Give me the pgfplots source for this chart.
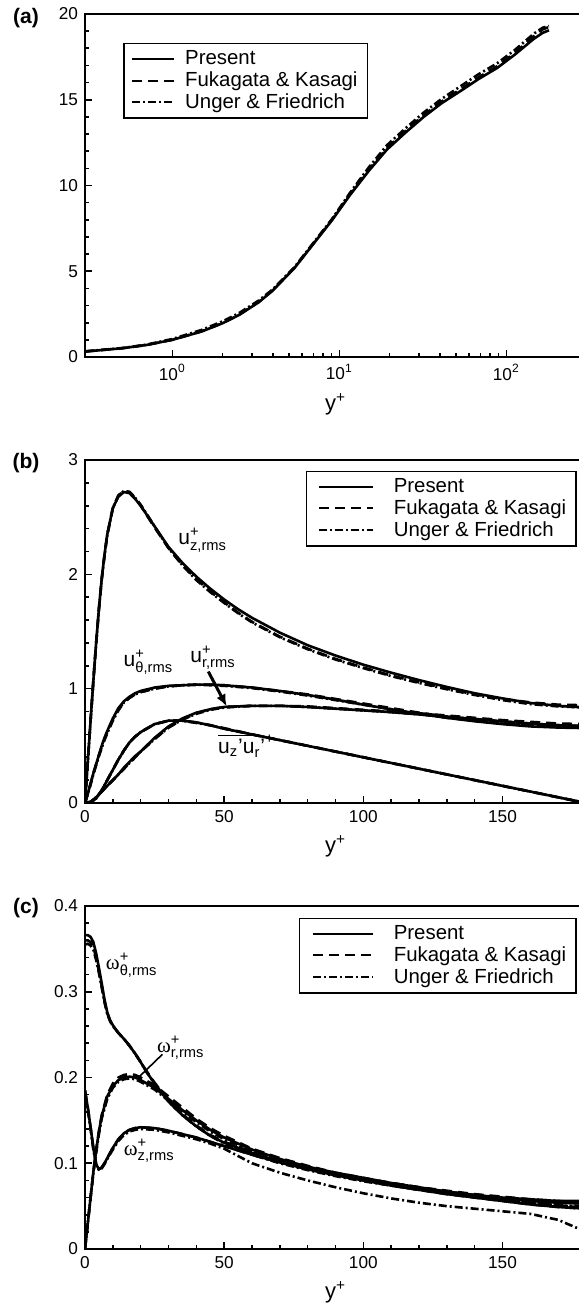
\documentclass[border=0pt]{standalone}
\usepackage{amsmath}
\usepackage{fontspec}
\setmainfont{Liberation Sans}
\newfontfamily\symf{Liberation Serif}
\usepackage{pgfplots}
\usepackage{pgfplotstable}
\pgfplotsset{compat=1.18}
\usetikzlibrary{arrows.meta}

% columns: y+  Present  Fukagata&Kasagi  Unger&Friedrich
\pgfplotstableread{
y P F U
0.3 0.32 0.32 0.33
0.5 0.51 0.51 0.52
0.7 0.70 0.70 0.72
1.0 1.00 1.00 1.05
1.5 1.49 1.50 1.58
2.0 1.97 1.98 2.08
2.5 2.44 2.45 2.55
3.3 3.20 3.22 3.30
4.0 3.88 3.90 3.95
5.4 5.20 5.22 5.25
7.0 6.60 6.62 6.66
9.0 7.95 7.98 8.02
11.6 9.45 9.50 9.58
15 10.85 10.92 11.05
19.3 12.10 12.18 12.35
25 13.10 13.20 13.35
32 14.00 14.10 14.25
41 14.80 14.90 15.05
53 15.50 15.60 15.78
68 16.20 16.30 16.48
88 16.85 16.95 17.12
113 17.65 17.75 17.92
146 18.55 18.70 18.85
165 18.90 19.10 19.20
180 19.05 19.25 19.30
}\umean

\pgfplotstableread{
y P F U
0 0 0 0
1 0.36 0.36 0.36
2 0.72 0.72 0.72
3 1.07 1.07 1.06
4 1.40 1.40 1.39
5 1.70 1.70 1.69
6 1.96 1.96 1.95
7 2.17 2.17 2.16
8 2.35 2.35 2.34
10 2.58 2.58 2.58
12 2.68 2.69 2.69
14 2.72 2.73 2.73
16 2.71 2.72 2.72
18 2.66 2.67 2.67
20 2.60 2.60 2.61
25 2.42 2.41 2.42
30 2.24 2.23 2.23
35 2.10 2.08 2.08
40 1.98 1.96 1.95
45 1.875 1.85 1.845
50 1.78 1.755 1.75
55 1.695 1.665 1.66
60 1.62 1.585 1.58
70 1.49 1.455 1.45
80 1.38 1.35 1.345
90 1.29 1.26 1.255
100 1.21 1.185 1.18
110 1.14 1.115 1.11
120 1.075 1.055 1.05
130 1.015 1.00 0.995
140 0.96 0.95 0.945
150 0.915 0.91 0.90
160 0.875 0.88 0.865
170 0.85 0.86 0.845
180 0.835 0.855 0.835
}\uztab

\pgfplotstableread{
y P F U
0 0 0 0
1 0.08 0.08 0.08
2 0.17 0.17 0.16
3 0.26 0.26 0.25
4 0.34 0.34 0.33
5 0.42 0.42 0.41
6 0.50 0.49 0.48
7 0.57 0.56 0.55
8 0.63 0.62 0.61
10 0.74 0.73 0.72
12 0.83 0.82 0.81
14 0.89 0.88 0.88
16 0.93 0.92 0.92
18 0.96 0.95 0.95
20 0.98 0.97 0.97
25 1.01 1.00 1.00
30 1.025 1.02 1.02
35 1.03 1.03 1.03
40 1.035 1.035 1.035
45 1.035 1.035 1.03
50 1.03 1.03 1.025
60 1.01 1.01 1.005
70 0.98 0.98 0.975
80 0.945 0.95 0.94
90 0.905 0.91 0.90
100 0.86 0.87 0.86
110 0.82 0.83 0.82
120 0.78 0.79 0.78
130 0.745 0.755 0.745
140 0.715 0.73 0.72
150 0.69 0.705 0.695
160 0.67 0.69 0.675
170 0.66 0.68 0.665
180 0.655 0.675 0.66
}\uttab

\pgfplotstableread{
y P F U
0 0 0 0
2 0.01 0.01 0.01
4 0.05 0.05 0.05
6 0.10 0.10 0.10
8 0.15 0.15 0.15
10 0.20 0.20 0.20
12 0.25 0.25 0.25
14 0.31 0.30 0.30
16 0.36 0.35 0.35
18 0.41 0.40 0.40
20 0.45 0.45 0.45
25 0.57 0.56 0.56
30 0.67 0.66 0.66
35 0.74 0.73 0.73
40 0.79 0.785 0.78
45 0.82 0.82 0.815
50 0.84 0.84 0.835
60 0.85 0.85 0.85
70 0.85 0.85 0.85
80 0.84 0.845 0.84
90 0.825 0.83 0.825
100 0.81 0.815 0.81
110 0.795 0.80 0.795
120 0.775 0.785 0.775
130 0.755 0.765 0.755
140 0.735 0.745 0.735
150 0.715 0.725 0.715
160 0.695 0.71 0.695
170 0.68 0.695 0.68
180 0.67 0.69 0.67
}\urtab

\pgfplotstableread{
y P F U
0 0 0 0
2 0.005 0.005 0.005
4 0.04 0.04 0.04
6 0.11 0.11 0.11
8 0.20 0.20 0.20
10 0.29 0.29 0.29
12 0.38 0.38 0.38
14 0.46 0.46 0.46
16 0.53 0.53 0.53
18 0.58 0.58 0.58
20 0.62 0.62 0.62
25 0.69 0.69 0.69
30 0.72 0.72 0.72
35 0.72 0.72 0.72
40 0.705 0.705 0.70
45 0.68 0.68 0.68
50 0.65 0.655 0.65
60 0.60 0.60 0.60
70 0.55 0.55 0.55
80 0.50 0.50 0.50
90 0.45 0.45 0.45
100 0.40 0.40 0.40
110 0.35 0.35 0.35
120 0.30 0.30 0.30
130 0.25 0.25 0.25
140 0.20 0.20 0.20
150 0.15 0.15 0.15
160 0.10 0.10 0.10
170 0.05 0.05 0.05
180 0 0 0
}\uvtab

\pgfplotstableread{
y P F U
0 0.366 0.360 0.355
1 0.366 0.360 0.356
2 0.364 0.358 0.354
3 0.358 0.352 0.349
4 0.345 0.340 0.337
5 0.328 0.324 0.322
6 0.310 0.307 0.305
7 0.291 0.289 0.288
8 0.276 0.275 0.274
9 0.267 0.266 0.266
10 0.261 0.260 0.260
12 0.252 0.252 0.252
14 0.245 0.245 0.245
16 0.237 0.237 0.237
18 0.228 0.228 0.228
20 0.218 0.218 0.218
22 0.207 0.208 0.207
25 0.193 0.194 0.193
30 0.172 0.173 0.172
35 0.156 0.157 0.156
40 0.143 0.144 0.143
45 0.132 0.133 0.132
50 0.124 0.125 0.123
60 0.112 0.113 0.110
70 0.102 0.103 0.100
80 0.094 0.095 0.092
90 0.087 0.088 0.085
100 0.081 0.082 0.079
110 0.076 0.077 0.074
120 0.071 0.072 0.069
130 0.067 0.068 0.065
140 0.063 0.064 0.061
150 0.060 0.061 0.057
160 0.058 0.058 0.054
170 0.056 0.056 0.051
180 0.056 0.055 0.048
}\wttab

\pgfplotstableread{
y P F U
0 0 0 0
1 0.03 0.03 0.03
2 0.06 0.06 0.06
3 0.09 0.09 0.088
4 0.115 0.115 0.112
5 0.137 0.137 0.134
6 0.155 0.156 0.152
8 0.178 0.180 0.175
10 0.190 0.193 0.188
12 0.197 0.200 0.195
14 0.200 0.203 0.198
16 0.201 0.204 0.199
18 0.200 0.203 0.198
20 0.197 0.200 0.195
25 0.188 0.191 0.186
30 0.175 0.178 0.173
35 0.162 0.165 0.160
40 0.150 0.152 0.148
45 0.139 0.141 0.137
50 0.130 0.132 0.128
60 0.116 0.117 0.114
70 0.105 0.106 0.103
80 0.096 0.097 0.094
90 0.089 0.089 0.087
100 0.083 0.083 0.081
110 0.077 0.077 0.075
120 0.072 0.072 0.070
130 0.067 0.067 0.065
140 0.063 0.063 0.061
150 0.059 0.059 0.057
160 0.056 0.056 0.054
170 0.054 0.054 0.051
180 0.053 0.053 0.049
}\wrtab

\pgfplotstableread{
y P F U
0 0.185 0.185 0.180
1 0.165 0.165 0.162
2 0.142 0.142 0.140
3 0.118 0.118 0.116
4 0.099 0.099 0.098
5 0.093 0.093 0.092
6 0.095 0.095 0.094
7 0.100 0.100 0.099
8 0.106 0.106 0.105
10 0.118 0.118 0.116
12 0.128 0.128 0.126
14 0.135 0.135 0.133
16 0.139 0.139 0.137
18 0.141 0.141 0.139
20 0.142 0.142 0.140
25 0.141 0.141 0.139
30 0.138 0.138 0.136
35 0.134 0.134 0.132
40 0.130 0.130 0.128
45 0.125 0.125 0.123
50 0.120 0.120 0.117
60 0.110 0.110 0.100
70 0.101 0.101 0.089
80 0.093 0.093 0.080
90 0.086 0.086 0.072
100 0.080 0.080 0.065
110 0.074 0.074 0.059
120 0.069 0.069 0.054
130 0.064 0.064 0.050
140 0.060 0.060 0.047
150 0.056 0.056 0.044
160 0.052 0.052 0.041
170 0.049 0.049 0.034
175 0.048 0.048 0.027
180 0.047 0.047 0.020
}\wztab

\tikzset{
  pres/.style={black, line width=1.3pt},
  fk/.style={black, line width=1.3pt, dash pattern=on 5pt off 3pt},
  uf/.style={black, line width=1.3pt, dash pattern=on 4pt off 1.5pt on 1pt off 1.5pt},
  curvelab/.style={font=\fontsize{10.5}{12}\selectfont},
  panellab/.style={font=\bfseries\fontsize{10.5}{12}\selectfont},
}
\pgfplotsset{
  panel/.style={
    scale only axis, width=250.5pt, height=171.5pt,
    axis line style={line width=1.4pt},
    tick align=inside, xtick pos=bottom, ytick pos=left,
    major tick length=3.4pt, minor tick length=2.2pt,
    every tick/.style={black, line width=0.8pt},
    tick label style={font=\fontsize{8.6}{9.5}\selectfont},
    /pgf/number format/assume math mode=true,
    xlabel={y\textsuperscript{+}},
    label style={font=\fontsize{11}{12}\selectfont},
    legend cell align=left,
    legend image code/.code={\path (0pt,0pt); \draw[##1, line width=1pt] (2.5pt,0pt) -- (29.5pt,0pt);},
    legend style={draw=black, line width=0.8pt, fill=white,
      font=\fontsize{10.2}{10.8}\selectfont, inner xsep=3pt, inner ysep=1.5pt,
      row sep=-2pt, /tikz/every odd column/.append style={column sep=8pt}},
  },
}

\begin{document}
\begin{tikzpicture}
\useasboundingbox (0,0) rectangle (289pt,-652.5pt);

%% (a) mean velocity
\begin{axis}[panel, name=pa, at={(42.5pt,-178.5pt)}, anchor=south west,
  xmode=log, xmin=0.3, xmax=300, ymin=0, ymax=20,
  xtick={1,10,100}, xticklabels={10\textsuperscript{0},10\textsuperscript{1},10\textsuperscript{2}},
  ytick={0,5,10,15,20}, minor y tick num=4,
  legend image code/.code={\path (0pt,0pt); \draw[#1, line width=1pt] (0.5pt,0pt) -- (21.5pt,0pt);},
  legend style={at={(0.076,0.916)}, anchor=north west,
    /tikz/every odd column/.append style={column sep=3pt}}]
\addplot[pres, forget plot] table[x=y, y=P] {\umean};
\addplot[fk, forget plot] table[x=y, y=F] {\umean};
\addplot[uf, forget plot] table[x=y, y=U] {\umean};
\addlegendimage{pres}\addlegendentry{Present}
\addlegendimage{fk}\addlegendentry{Fukagata \& Kasagi}
\addlegendimage{uf}\addlegendentry{Unger \& Friedrich}
\end{axis}
\node[panellab] at ([xshift=-29.5pt, yshift=-2pt]pa.north west) {(a)};

%% (b) rms velocities and shear stress
\begin{axis}[panel, name=pb, at={(42.5pt,-401.5pt)}, anchor=south west,
  xmin=0, xmax=180, ymin=0, ymax=3,
  xtick={0,50,100,150}, minor x tick num=4,
  ytick={0,1,2,3}, minor y tick num=4,
  legend style={at={(0.982,0.969)}, anchor=north east}]
\addplot[pres, forget plot] table[x=y, y=P] {\uztab};
\addplot[fk, forget plot] table[x=y, y=F] {\uztab};
\addplot[uf, forget plot] table[x=y, y=U] {\uztab};
\addplot[pres, forget plot] table[x=y, y=P] {\uttab};
\addplot[fk, forget plot] table[x=y, y=F] {\uttab};
\addplot[uf, forget plot] table[x=y, y=U] {\uttab};
\addplot[pres, forget plot] table[x=y, y=P] {\urtab};
\addplot[fk, forget plot] table[x=y, y=F] {\urtab};
\addplot[uf, forget plot] table[x=y, y=U] {\urtab};
\addplot[pres, forget plot] table[x=y, y=P] {\uvtab};
\addplot[fk, forget plot] table[x=y, y=F] {\uvtab};
\addplot[uf, forget plot] table[x=y, y=U] {\uvtab};
\addlegendimage{pres}\addlegendentry{Present}
\addlegendimage{fk}\addlegendentry{Fukagata \& Kasagi}
\addlegendimage{uf}\addlegendentry{Unger \& Friedrich}
\node[curvelab] at (axis cs:42.3,2.30) {$\text{u}^{\text{+}}_{\text{z,rms}}$};
\node[curvelab] at (axis cs:22.8,1.23) {$\text{u}^{\text{+}}_{\text{θ,rms}}$};
\node[curvelab] at (axis cs:46,1.27) {$\text{u}^{\text{+}}_{\text{r,rms}}$};
\node[curvelab] at (axis cs:58,0.50) {$\overline{\text{u}_\text{z}\text{'u}}_\text{r}\text{'}^{\text{+}}$};
\draw[-{Latex[length=6pt,width=5pt]}, line width=1.5pt] (axis cs:44.3,1.15) -- (axis cs:50.9,0.845);
\end{axis}
\node[panellab] at ([xshift=-29.5pt, yshift=-1.5pt]pb.north west) {(b)};

%% (c) rms vorticities
\begin{axis}[panel, name=pc, at={(42.5pt,-624.5pt)}, anchor=south west,
  xmin=0, xmax=180, ymin=0, ymax=0.4,
  xtick={0,50,100,150}, minor x tick num=4,
  ytick={0,0.1,0.2,0.3,0.4}, minor y tick num=4,
  legend image code/.code={\path (0pt,0pt); \draw[#1, line width=1pt] (3pt,0pt) -- (33pt,0pt);},
  legend style={at={(0.982,0.966)}, anchor=north east}]
\addplot[pres, forget plot] table[x=y, y=P] {\wttab};
\addplot[fk, forget plot] table[x=y, y=F] {\wttab};
\addplot[uf, forget plot] table[x=y, y=U] {\wttab};
\addplot[pres, forget plot] table[x=y, y=P] {\wrtab};
\addplot[fk, forget plot] table[x=y, y=F] {\wrtab};
\addplot[uf, forget plot] table[x=y, y=U] {\wrtab};
\addplot[pres, forget plot] table[x=y, y=P] {\wztab};
\addplot[fk, forget plot] table[x=y, y=F] {\wztab};
\addplot[uf, forget plot] table[x=y, y=U] {\wztab};
\addlegendimage{pres}\addlegendentry{Present}
\addlegendimage{fk}\addlegendentry{Fukagata \& Kasagi}
\addlegendimage{uf}\addlegendentry{Unger \& Friedrich}
\node[curvelab] at (axis cs:16.8,0.331) {$\text{\symf ω}^{\text{+}}_{\text{θ,rms}}$};
\node[curvelab] at (axis cs:34.4,0.235) {$\text{\symf ω}^{\text{+}}_{\text{r,rms}}$};
\node[curvelab] at (axis cs:23.1,0.1146) {$\text{\symf ω}^{\text{+}}_{\text{z,rms}}$};
\draw[line width=0.8pt] (axis cs:27.8,0.227) -- (axis cs:19.2,0.2);
\end{axis}
\node[panellab] at ([xshift=-29.5pt, yshift=-1pt]pc.north west) {(c)};
\end{tikzpicture}
\end{document}
